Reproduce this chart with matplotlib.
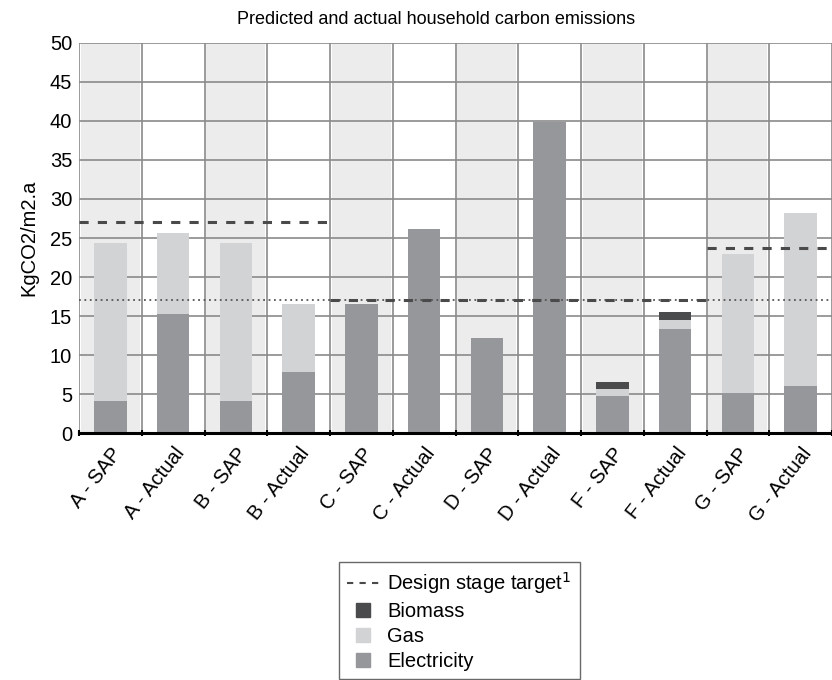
import numpy as np
import matplotlib.pyplot as plt
from matplotlib.lines import Line2D

plt.rcParams['font.family'] = ['Liberation Sans', 'DejaVu Sans']

# Categories and stacked values (KgCO2/m2.a)
categories = ["A - SAP", "A - Actual", "B - SAP", "B - Actual", "C - SAP", "C - Actual",
              "D - SAP", "D - Actual", "F - SAP", "F - Actual", "G - SAP", "G - Actual"]
electricity = [4.1, 15.3, 4.1, 7.8, 16.6, 26.1, 12.2, 39.8, 4.7, 13.4, 5.1, 6.0]
gas = [20.2, 10.3, 20.2, 8.7, 0, 0, 0, 0, 1.0, 1.1, 17.9, 22.2]
biomass = [0, 0, 0, 0, 0, 0, 0, 0, 0.9, 1.0, 0, 0]

# Design stage targets per site group (start index, end index, value)
target_groups = [(0, 3, 27.0), (4, 9, 17.0), (10, 11, 23.7)]
reference_line = 17.0

c_elec = "#96979b"
c_gas = "#d2d3d5"
c_bio = "#4a4b4d"

fig = plt.figure(figsize=(8.32, 6.8), dpi=100)
ax = fig.add_axes([0.095, 0.363, 0.905, 0.574])

x = np.arange(len(categories))
n = len(categories)

# shaded background for SAP columns
for i in range(0, n, 2):
    ax.axvspan(i - 0.47, i + 0.47, color="#ececec", zorder=0, lw=0)

# grid
for i in range(n + 1):
    ax.axvline(i - 0.5, color="#8a8a8a", lw=1.2, zorder=1)
for yv in range(5, 51, 5):
    ax.axhline(yv, color="#8a8a8a", lw=1.2, zorder=1)

w = 0.52
ax.bar(x, electricity, w, color=c_elec, zorder=2)
ax.bar(x, gas, w, bottom=electricity, color=c_gas, zorder=2)
ax.bar(x, biomass, w, bottom=np.array(electricity) + np.array(gas), color=c_bio, zorder=2)

# dotted reference across whole chart
ax.plot([-0.5, n - 0.5], [reference_line, reference_line], color="#555555", lw=1.3,
        ls=(0, (1, 2)), zorder=3)
# dashed design targets
for s, e, v in target_groups:
    ax.plot([s - 0.5, e + 0.5], [v, v], color="#4a4a4a", lw=2.2, ls=(0, (3, 3)), zorder=4)

ax.set_xlim(-0.5, n - 0.5)
ax.set_ylim(0, 50)
ax.set_yticks(range(0, 51, 5))
ax.tick_params(axis='y', length=0, labelsize=14.5, pad=5)
ax.set_xticks(np.arange(n + 1) - 0.5, minor=False)
ax.set_xticklabels([])
ax.set_xticks(x, minor=True)
ax.set_xticklabels(categories, minor=True, rotation=52, ha="right",
                   rotation_mode="anchor", fontsize=14.5)
ax.tick_params(axis='x', which='major', length=5, width=1.5, direction='inout', color='black')
ax.tick_params(axis='x', which='minor', length=0, pad=8)

for sp in ["left", "right", "top"]:
    ax.spines[sp].set_visible(False)
ax.spines["bottom"].set_linewidth(2.2)
ax.spines["bottom"].set_color("black")
ax.spines["bottom"].set_zorder(5)

ax.set_ylabel("KgCO2/m2.a", fontsize=14.5, labelpad=8)
fig.text(0.524, 0.972, "Predicted and actual household carbon emissions", ha="center",
         va="center", fontsize=13)

handles = [
    Line2D([0], [0], color="#4a4a4a", lw=1.5, ls=(0, (3, 3))),
    Line2D([], [], ls="none", marker="s", markersize=10, color=c_bio),
    Line2D([], [], ls="none", marker="s", markersize=10, color=c_gas),
    Line2D([], [], ls="none", marker="s", markersize=10, color=c_elec),
]
labels = ["Design stage target$^{1}$", "Biomass", "Gas", "Electricity"]
leg = fig.legend(handles, labels, loc="upper left", bbox_to_anchor=(0.4075, 0.1735),
                 fontsize=14.5, frameon=True, fancybox=False, edgecolor="#444444",
                 handlelength=1.6, handletextpad=0.4, labelspacing=0.3,
                 borderpad=0.4, borderaxespad=0, numpoints=1)
leg.get_frame().set_linewidth(1.0)

fig.savefig("out.png", dpi=100)
